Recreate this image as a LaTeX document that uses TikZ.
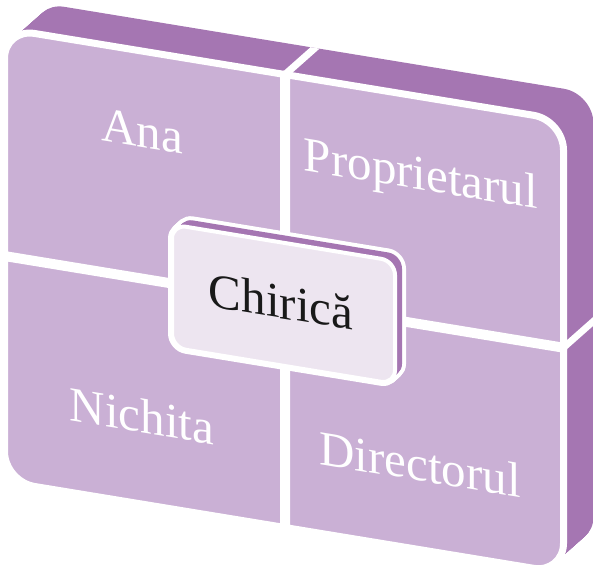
\documentclass[tikz,border=0pt]{standalone}
\usepackage{fontspec}
\setmainfont{Liberation Serif}
\definecolor{darkp}{RGB}{165,118,178}
\definecolor{lightp}{RGB}{202,176,213}
\definecolor{paleP}{RGB}{237,229,240}
\tikzset{
  tile/.style={draw=white, line width=7pt, fill=lightp},
  lbl/.style={transform shape, text=white, inner sep=0pt, font=\fontsize{49}{55}\selectfont},
  centerlbl/.style={transform shape, text=black!90, inner sep=0pt, font=\fontsize{49}{55}\selectfont},
}
\begin{document}
\begin{tikzpicture}[x=1pt,y=1pt]
\useasboundingbox (0,0) rectangle (593,-567);
\begin{scope}[cm={1,-0.164,0,1,(8pt,-32.6pt)}]
  % extrusion of the whole matrix
  \foreach \i in {0,...,40} {
    \fill[darkp, shift={(0.75*\i,0.7875*\i)}] [rounded corners=30] (-3.5,3.5) rectangle (555.5,-449.5);
  }
  % white gap bands on top and right faces
  \fill[white] (272.5,3.5) -- (281.5,3.5) -- (311.5,35) -- (302.5,35) -- cycle;
  \fill[white] (555.5,-219.5) -- (555.5,-228.5) -- (585.5,-197) -- (585.5,-188) -- cycle;
  % front tiles
  \draw[tile] (-3.5,-222.5) -- (-3.5,-26.5) arc[start angle=180,end angle=90,radius=30] -- (275.5,3.5) -- (275.5,-222.5) -- cycle;
  \draw[tile] (278.5,-222.5) -- (278.5,3.5) -- (525.5,3.5) arc[start angle=90,end angle=0,radius=30] -- (555.5,-222.5) -- cycle;
  \draw[tile] (-3.5,-225.5) -- (275.5,-225.5) -- (275.5,-449.5) -- (26.5,-449.5) arc[start angle=270,end angle=180,radius=30] -- cycle;
  \draw[tile] (278.5,-225.5) -- (555.5,-225.5) -- (555.5,-419.5) arc[start angle=0,end angle=-90,radius=30] -- (278.5,-449.5) -- cycle;
  % center box
  \foreach \i in {0,...,10} {
    \draw[white, line width=8pt, shift={(0.7*\i,0.75*\i)}] [rounded corners=14] (164,-165) rectangle (387,-288);
  }
  \foreach \i in {0,...,10} {
    \fill[darkp, shift={(0.7*\i,0.75*\i)}] [rounded corners=14] (164,-165) rectangle (387,-288);
  }
  \draw[white, line width=4pt, fill=paleP] [rounded corners=14] (164,-165) rectangle (387,-288);
  % labels
  \node[lbl] (ana) at (134,-76.9) {Ana};
  \node[lbl] (prop) at (413,-77.7) {Proprietarul};
  \node[lbl] (nich) at (134,-361.4) {Nichita};
  \node[lbl] (dir) at (412,-363.8) {Directorul};
  \node[centerlbl] (chir) at (273,-224.1) {Chirică};
\end{scope}
\end{tikzpicture}
\end{document}
